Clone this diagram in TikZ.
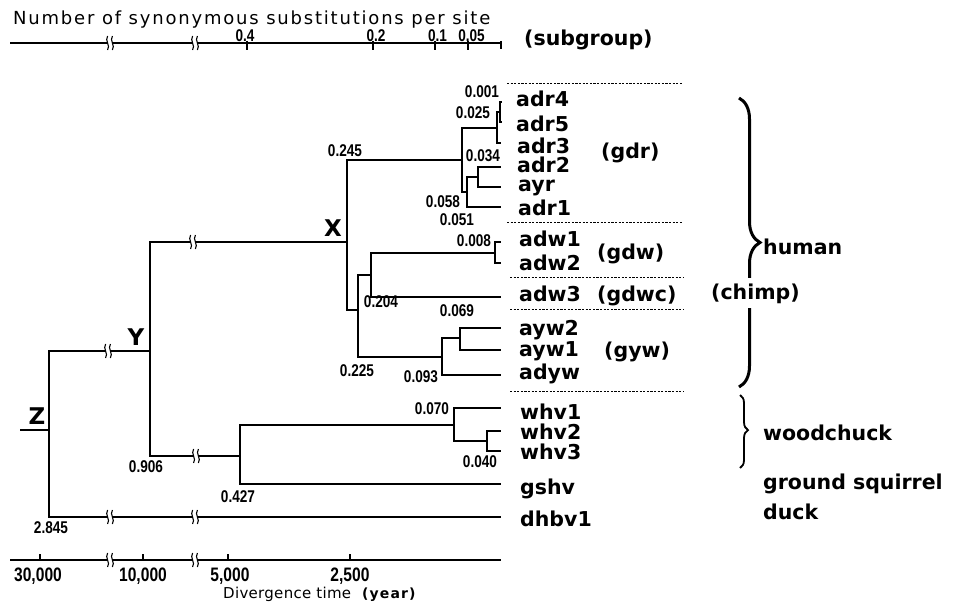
\documentclass[tikz,border=0pt]{standalone}
\usepackage{fontspec}
\usetikzlibrary{decorations.pathreplacing}
\setmainfont{Liberation Sans}
\newfontfamily\numfont[FakeStretch=0.8]{Liberation Sans}
\newfontfamily\lblfont{DejaVu Sans}
\newfontfamily\ttlfont[LetterSpace=10]{DejaVu Sans}
\newfontfamily\xlfont[LetterSpace=2]{DejaVu Sans}
\newfontfamily\yrfont[LetterSpace=8]{DejaVu Sans}
\begin{document}
\begin{tikzpicture}[x=1pt,y=-1pt,
  tree/.style={line width=1.6pt},
  axisline/.style={line width=1.6pt},
  sep/.style={line width=0.9pt, dash pattern=on 2.2pt off 1.4pt},
  num/.style={font=\numfont\bfseries\fontsize{17}{18}\selectfont, inner sep=0pt},
  axnum/.style={font=\numfont\bfseries\fontsize{19.5}{20}\selectfont, inner sep=0pt, anchor=base},
  topnum/.style={font=\numfont\bfseries\fontsize{17}{18}\selectfont, inner sep=0pt, anchor=base},
  leaf/.style={font=\lblfont\bfseries\fontsize{20.5}{24}\selectfont, inner sep=0pt, anchor=base west},
  big/.style={font=\lblfont\bfseries\fontsize{23}{26}\selectfont, inner sep=0pt},
  brk/.pic={
    \fill[white] (-2.2,-2.5) rectangle (2.2,2.5);
    \draw[line width=1.1pt] (-2.4,-7) .. controls (-5.6,-2.5) and (0.8,2.5) .. (-2.4,7);
    \draw[line width=1.1pt] (2.4,-7) .. controls (-0.8,-2.5) and (5.6,2.5) .. (2.4,7);
  }]
\useasboundingbox (0,0) rectangle (959,607);

% ---------- top axis ----------
\node[font=\ttlfont\fontsize{18}{20}\selectfont, inner sep=0pt, anchor=base west] (title) at (13,25) {Number of synonymous substitutions per site};
\coordinate (ta0) at (10,43);
\coordinate (ta1) at (501,43);
\draw[axisline] (ta0) -- (ta1);
\foreach \x in {247,373,435,468} \draw[line width=1.2pt] (\x,41) -- (\x,50);
\draw[line width=1.2pt] (501,41) -- (501,49);
\node[topnum] (t04) at (245,42) {0.4};
\node[topnum] (t02) at (376,42) {0.2};
\node[topnum] (t01) at (437.5,42) {0.1};
\node[topnum] (t005) at (471.5,42) {0.05};
\pic at (110,43) {brk};
\pic at (195,43) {brk};
\node[leaf] (subgroup) at (524,46) {(subgroup)};

% ---------- tree coordinates ----------
\coordinate (root) at (20,430);
\coordinate (Z) at (49,430);
\coordinate (Y) at (150,351);
\coordinate (X) at (347,242);
\coordinate (n058) at (462,160);
\coordinate (n025) at (497,128);
\coordinate (n001) at (500,112);
\coordinate (n051) at (467,192);
\coordinate (n034) at (478,177);
\coordinate (n225) at (358,310);
\coordinate (n204) at (371,275);
\coordinate (n008) at (495,253);
\coordinate (n093) at (442,357);
\coordinate (n069) at (460,338);
\coordinate (n427) at (240,456);
\coordinate (n070) at (454,425);
\coordinate (n040) at (487,441);
\coordinate (t-adr4) at (502,102);
\coordinate (t-adr5) at (502,122);
\coordinate (t-adr3) at (501,143);
\coordinate (t-adr2) at (501,167);
\coordinate (t-ayr) at (501,187);
\coordinate (t-adr1) at (501,207);
\coordinate (t-adw1) at (501,242);
\coordinate (t-adw2) at (501,263);
\coordinate (t-adw3) at (501,297);
\coordinate (t-ayw2) at (501,328);
\coordinate (t-ayw1) at (501,350);
\coordinate (t-adyw) at (501,375);
\coordinate (t-whv1) at (501,408);
\coordinate (t-whv2) at (501,431);
\coordinate (t-whv3) at (501,451);
\coordinate (t-gshv) at (501,484);
\coordinate (t-dhbv1) at (501,517);

% ---------- tree branches ----------
\draw[tree] (root) -- (Z);
\draw[tree] (Z) |- (Y);
\draw[tree] (Z) |- (t-dhbv1);
\draw[tree] (Y) |- (X);
\draw[tree] (Y) |- (n427);
\draw[tree] (X) |- (n058);
\draw[tree] (X) |- (n225);
\draw[tree] (n058) |- (n025);
\draw[tree] (n058) |- (n051);
\draw[tree] (n025) |- (n001);
\draw[tree] (n025) |- (t-adr3);
\draw[tree] (n001) |- (t-adr4);
\draw[tree] (n001) |- (t-adr5);
\draw[tree] (n051) |- (n034);
\draw[tree] (n051) |- (t-adr1);
\draw[tree] (n034) |- (t-adr2);
\draw[tree] (n034) |- (t-ayr);
\draw[tree] (n225) |- (n204);
\draw[tree] (n225) |- (n093);
\draw[tree] (n204) |- (n008);
\draw[tree] (n204) |- (t-adw3);
\draw[tree] (n008) |- (t-adw1);
\draw[tree] (n008) |- (t-adw2);
\draw[tree] (n093) |- (n069);
\draw[tree] (n093) |- (t-adyw);
\draw[tree] (n069) |- (t-ayw2);
\draw[tree] (n069) |- (t-ayw1);
\draw[tree] (n427) |- (n070);
\draw[tree] (n427) |- (t-gshv);
\draw[tree] (n070) |- (t-whv1);
\draw[tree] (n070) |- (n040);
\draw[tree] (n040) |- (t-whv2);
\draw[tree] (n040) |- (t-whv3);

% breaks
\pic at (108,351) {brk};
\pic at (193,242) {brk};
\pic at (196,456) {brk};
\pic at (110,517) {brk};
\pic at (195,517) {brk};

% node letters
\node[big] (lX) at (333,228) {X};
\node[big] (lY) at (136,337) {Y};
\node[big] (lZ) at (37,416) {Z};

% node depths
\node[num] (d001) at (482,92) {0.001};
\node[num] (d025) at (473,113) {0.025};
\node[num] (d245) at (345,151) {0.245};
\node[num] (d034) at (483,156) {0.034};
\node[num] (d058) at (443,202) {0.058};
\node[num] (d051) at (457,220) {0.051};
\node[num] (d008) at (474,241) {0.008};
\node[num] (d204) at (381,302) {0.204};
\node[num] (d069) at (457,311) {0.069};
\node[num] (d225) at (357,371) {0.225};
\node[num] (d093) at (421,377) {0.093};
\node[num] (d070) at (432,409) {0.070};
\node[num] (d040) at (480,462) {0.040};
\node[num] (d427) at (238,497) {0.427};
\node[num] (d906) at (146,467) {0.906};
\node[num] (d2845) at (51,528) {2.845};

% leaf labels
\node[leaf] (adr4) at (516,107) {adr4};
\node[leaf] (adr5) at (516,131.5) {adr5};
\node[leaf] (adr3) at (517,153.5) {adr3};
\node[leaf] (adr2) at (517,173) {adr2};
\node[leaf] (ayr) at (518,191.5) {ayr};
\node[leaf] (adr1) at (518,215) {adr1};
\node[leaf] (adw1) at (519,246.5) {adw1};
\node[leaf] (adw2) at (519,270) {adw2};
\node[leaf] (adw3) at (519,301.5) {adw3};
\node[leaf] (ayw2) at (519,335.5) {ayw2};
\node[leaf] (ayw1) at (519,356) {ayw1};
\node[leaf] (adyw) at (519,379) {adyw};
\node[leaf] (whv1) at (520,419.5) {whv1};
\node[leaf] (whv2) at (520,439.5) {whv2};
\node[leaf] (whv3) at (520,459.5) {whv3};
\node[leaf] (gshv) at (520,494) {gshv};
\node[leaf] (dhbv1) at (520,526.5) {dhbv1};

% subgroup labels
\node[leaf] (gdr) at (601,159) {(gdr)};
\node[leaf] (gdw) at (597,259) {(gdw)};
\node[leaf] (gdwc) at (597,301.5) {(gdwc)};
\node[leaf] (gyw) at (604,357) {(gyw)};

% separators
\coordinate (s1a) at (507,83);  \coordinate (s1b) at (683,83);
\coordinate (s2a) at (507,222); \coordinate (s2b) at (683,222);
\coordinate (s3a) at (510,277); \coordinate (s3b) at (683,277);
\coordinate (s4a) at (510,309); \coordinate (s4b) at (683,309);
\coordinate (s5a) at (510,391); \coordinate (s5b) at (683,391);
\draw[sep] (s1a) -- (s1b);
\draw[sep] (s2a) -- (s2b);
\draw[sep] (s3a) -- (s3b);
\draw[sep] (s4a) -- (s4b);
\draw[sep] (s5a) -- (s5b);

% braces
\coordinate (b1a) at (739,98);
\coordinate (b1b) at (739,387);
\draw[line width=3pt, decorate, decoration={brace, amplitude=21pt, aspect=0.5}] (b1a) -- (b1b);
\coordinate (b2a) at (740,395);
\coordinate (b2b) at (740,468);
\draw[line width=1.8pt, decorate, decoration={brace, amplitude=8pt, aspect=0.48}] (b2a) -- (b2b);

\node[leaf] (human) at (763,254.5) {human};
\node[leaf, fill=white, inner xsep=1pt, inner ysep=5pt] (chimp) at (710,299) {(chimp)};
\node[leaf] (woodchuck) at (763,440) {woodchuck};
\node[leaf] (gsq) at (763,489) {ground squirrel};
\node[leaf] (duck) at (763,519.5) {duck};

% ---------- bottom axis ----------
\coordinate (ba0) at (10,560);
\coordinate (ba1) at (501,560);
\draw[axisline] (ba0) -- (ba1);
\foreach \x in {40,143,228,350} \draw[line width=1.2pt] (\x,554) -- (\x,561);
\pic at (110,560) {brk};
\pic at (195,560) {brk};
\node[axnum] (y30) at (38,581.5) {30,000};
\node[axnum] (y10) at (143,581.5) {10,000};
\node[axnum] (y5) at (230,581.5) {5,000};
\node[axnum] (y25) at (350,581.5) {2,500};
\node[font=\xlfont\fontsize{15}{18}\selectfont, inner sep=0pt, anchor=base west] (xl) at (223,598) {Divergence time};
\node[font=\yrfont\bfseries\fontsize{14}{15}\selectfont, inner sep=0pt, anchor=base west] (yr) at (362,598) {(year)};
\end{tikzpicture}
\end{document}
